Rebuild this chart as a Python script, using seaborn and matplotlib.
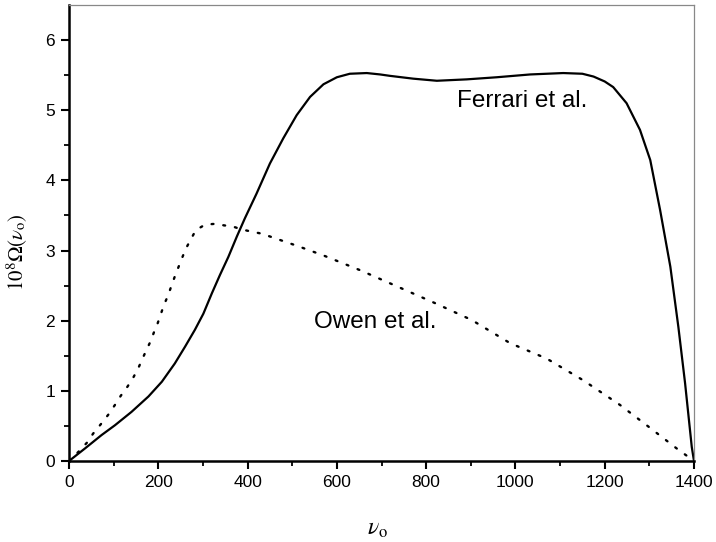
import numpy as np
import pandas as pd
import matplotlib
matplotlib.use('Agg')
import matplotlib.pyplot as plt
import seaborn as sns

# values
ferrari_x = [0, 36, 73, 103, 140, 178, 208, 237, 260, 282, 301, 320, 338, 357, 376, 394,
             420, 450, 480, 510, 540, 570, 600, 629, 667, 697, 719, 771, 824, 891, 958,
             1033, 1107, 1150, 1175, 1200, 1219, 1249, 1279, 1302, 1324, 1347, 1365, 1380,
             1395, 1400]
ferrari_y = [0, 0.18, 0.37, 0.51, 0.70, 0.92, 1.13, 1.39, 1.63, 1.87, 2.10, 2.39, 2.65,
             2.91, 3.20, 3.46, 3.81, 4.24, 4.60, 4.93, 5.19, 5.37, 5.47, 5.52, 5.53, 5.51,
             5.49, 5.45, 5.42, 5.44, 5.47, 5.51, 5.53, 5.52, 5.48, 5.41, 5.33, 5.10, 4.72,
             4.29, 3.58, 2.77, 1.91, 1.11, 0.20, 0]

owen_x = [0, 21, 40, 54, 72, 88, 103, 116, 131, 144, 155, 164, 174, 183, 190, 199, 206,
          213, 222, 229, 237, 245, 253, 262, 273, 284, 305, 326, 346, 368, 387, 409, 432,
          473, 514, 570, 652, 738, 820, 902, 988, 1070, 1152, 1234, 1298, 1361, 1400]
owen_y = [0, 0.13, 0.26, 0.39, 0.53, 0.66, 0.80, 0.93, 1.06, 1.19, 1.32, 1.45, 1.59, 1.71,
          1.83, 1.97, 2.10, 2.23, 2.36, 2.49, 2.63, 2.76, 2.89, 3.03, 3.16, 3.29, 3.37,
          3.38, 3.36, 3.34, 3.30, 3.27, 3.24, 3.15, 3.06, 2.93, 2.72, 2.48, 2.25, 2.01,
          1.68, 1.46, 1.15, 0.80, 0.49, 0.18, 0]

ferrari = pd.DataFrame({'nu': ferrari_x, 'omega': ferrari_y})
owen = pd.DataFrame({'nu': owen_x, 'omega': owen_y})

sns.set_style('ticks')
plt.rcParams['font.family'] = ['Liberation Sans', 'DejaVu Sans']
plt.rcParams['mathtext.fontset'] = 'stix'
plt.rcParams['text.color'] = 'black'
plt.rcParams['axes.labelcolor'] = 'black'
plt.rcParams['xtick.color'] = 'black'
plt.rcParams['ytick.color'] = 'black'

fig = plt.figure(figsize=(7.16, 5.42), dpi=100)
ax = fig.add_axes([69 / 716, 81 / 542, 625 / 716, 456 / 542])

sns.lineplot(data=ferrari, x='nu', y='omega', ax=ax, color='black', lw=1.6,
             solid_joinstyle='round', sort=False, estimator=None)
sns.lineplot(data=owen, x='nu', y='omega', ax=ax, color='black', lw=1.7,
             linestyle=(0, (0.8, 4.2)), dash_capstyle='round', sort=False, estimator=None)

ax.set_xlim(0, 1400)
ax.set_ylim(0, 6.5)
ax.set_xticks(np.arange(0, 1401, 200))
ax.set_xticks(np.arange(100, 1400, 200), minor=True)
ax.set_yticks(np.arange(0, 7, 1))
ax.set_yticks(np.arange(0.5, 6.5, 1), minor=True)
ax.tick_params(which='major', direction='out', length=6, width=1.5, labelsize=12.5, pad=4)
ax.tick_params(which='minor', direction='out', length=3.5, width=1.3)

for side in ['left', 'bottom']:
    ax.spines[side].set_linewidth(1.8)
    ax.spines[side].set_color('black')
for side in ['top', 'right']:
    ax.spines[side].set_linewidth(0.9)
    ax.spines[side].set_color('#888888')

ax.set_xlabel(r'$\nu_{\rm o}$', fontsize=17)
ax.set_ylabel(r'$10^8\Omega(\nu_{\rm o})$', fontsize=15)
ax.xaxis.set_label_coords(0.494, -0.125)
ax.yaxis.set_label_coords(-0.062, 0.458)

ax.text(1015, 5.13, 'Ferrari et al.', fontsize=17.5, ha='center', va='center')
ax.text(686, 1.98, 'Owen et al.', fontsize=17.5, ha='center', va='center')

plt.savefig('out.png', dpi=100)
plt.close()
print("saved out.png")
